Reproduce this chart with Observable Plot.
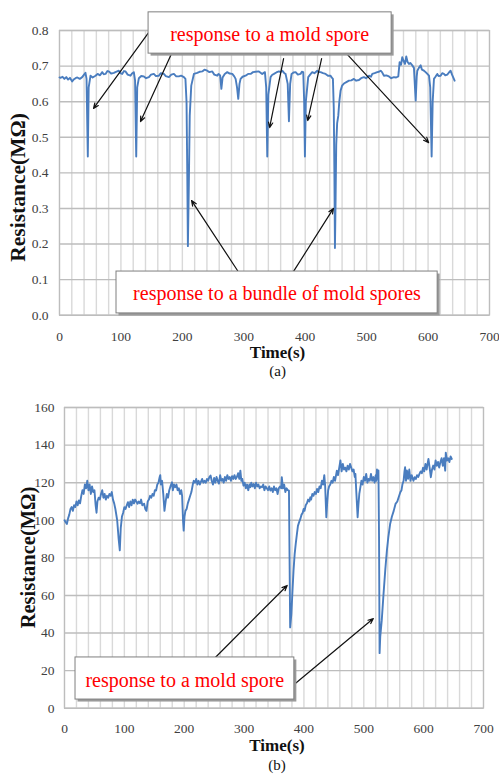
<!DOCTYPE html>
<html><head><meta charset="utf-8">
<script src="https://cdn.jsdelivr.net/npm/d3@7"></script>
<script src="https://cdn.jsdelivr.net/npm/@observablehq/plot@0.6"></script>
<style>body{margin:0;background:#fff;} svg{display:block;}</style>
</head><body><div id="chart"></div>
<script>
// ---------- Panel (a) data ----------
const timeA = [0,1.6,5,8,11,14,17,20.6,23,26.1,29,33,36.9,40,42.3,44,46.1,47.5,50.5,54,58.6,62,66,69.5,72,74.9,78,80.3,84,88.5,92,96.6,99,102,105,107.5,111,115.6,118,121,123,124.9,126.5,129.2,133,137.3,141,145.5,149,153.6,157,161.8,165,169.9,173,178.1,182,186.2,190,194.4,198,202.5,205,206.8,208,209,210.5,212,214.5,218.8,224.2,228,232.4,236,240.5,244,248.7,252,256.8,259,261.5,263.5,265.5,269,273.1,277,281.3,284.5,286.7,289,291,293,294.8,298,302.9,307,311.1,315,319.2,324.6,330,334.4,336.5,338.2,340,343.6,346,349.1,353,357.2,360,362.6,366,368,371.5,373.5,375.5,377.8,381,384.4,388,392.4,394.5,396.8,398.3,399.5,401,404.9,408,411.4,415,419.6,422,425,429,433.2,437,441.3,443,445.1,446.5,447.5,448.4,449.5,450.5,452,453.8,455.5,457.6,460,463,467,471.2,475,479.3,483,487.5,491,495.6,499,503.8,507,509.2,513,517.3,520,522.8,525,528.2,532,536.3,540,544.5,548,551.5,553.7,556,558,560,562.4,564.5,566.5,568.9,571,574.3,577,579.8,581.5,582.5,585,587.9,590,593.3,596,598.8,601.5,603.5,605.8,607.5,609.6,612,615,617,620.4,623,625.8,628,631.3,634,636.7,639,643.2];
const resA = [0.668,0.667,0.670,0.664,0.669,0.662,0.667,0.657,0.662,0.666,0.668,0.664,0.669,0.676,0.681,0.664,0.446,0.640,0.673,0.668,0.673,0.678,0.674,0.683,0.677,0.678,0.686,0.685,0.679,0.681,0.684,0.687,0.680,0.678,0.686,0.685,0.676,0.673,0.679,0.683,0.660,0.446,0.640,0.666,0.672,0.671,0.666,0.669,0.676,0.678,0.672,0.673,0.680,0.678,0.672,0.669,0.676,0.678,0.671,0.671,0.673,0.669,0.664,0.600,0.400,0.194,0.360,0.560,0.645,0.678,0.681,0.684,0.685,0.690,0.687,0.683,0.685,0.676,0.673,0.678,0.674,0.636,0.668,0.678,0.683,0.679,0.678,0.671,0.664,0.640,0.608,0.650,0.664,0.670,0.673,0.678,0.678,0.683,0.684,0.685,0.678,0.683,0.640,0.446,0.620,0.669,0.675,0.678,0.682,0.685,0.683,0.687,0.680,0.678,0.650,0.545,0.650,0.678,0.682,0.683,0.676,0.678,0.684,0.683,0.600,0.446,0.600,0.669,0.676,0.683,0.680,0.687,0.683,0.683,0.680,0.678,0.673,0.673,0.668,0.664,0.580,0.400,0.189,0.330,0.480,0.540,0.560,0.600,0.631,0.645,0.651,0.655,0.659,0.660,0.664,0.659,0.661,0.666,0.669,0.666,0.673,0.670,0.678,0.680,0.683,0.684,0.687,0.683,0.673,0.674,0.671,0.666,0.669,0.668,0.671,0.711,0.704,0.725,0.715,0.706,0.727,0.712,0.706,0.709,0.702,0.695,0.603,0.670,0.687,0.695,0.702,0.690,0.687,0.683,0.678,0.673,0.640,0.446,0.600,0.664,0.670,0.678,0.672,0.673,0.680,0.678,0.674,0.676,0.682,0.687,0.676,0.659];

// ---------- Panel (b) data ----------
const timeB = [0,2,4,6,8,10,12,14,16,18,20,22,24,26,28,30,32,34,36,38,40,42,44,46,48,50,52,53.5,55,57,59,61,63,65,67,69,71,73,75,77,79,81,83,85,88,90.5,92.4,94,96,98,100,102,104,106,108,110,112,114,116,118,120,122,124,126,128,130,133,135,137,139,141,143,145,147,149,151,153,155,157,159,160,161,163,165,167,169,171,173,175,177,179.6,181,183,185,187,189,191,193,195,196.5,198,199.1,200.5,202,204,206,208,210,212,214.5,216,218,220,222,224,226,228,230,232,234,236,238,240,242,244,246,248,250,252,254,256,258,260,262,264,266,268,270,272,274,276,278,280,282,284,286,288,290,292,293.8,295.5,297,299,301,303,305,307,309,310.5,312,314,316,318,320,322,324,326,328,330,332,334,336,338,340,342,343.9,346,348,350,352,354,356,358,360,362,363,365,367,369,371,373,375,376,377,379,380.5,382.6,384.5,386.3,388,390,392,394,396,398,399.5,401,403,405,407,409,410.7,412,414,416,418,420,421.9,424,426,428,430,432,434,435.5,437.4,439,440.5,442,444,446,448,450,452,455,457,459,461,463,465,467,469,471,473,475,477,479,481,483,485,486,487.5,489.7,491,492.5,494,496,498,500,502,504,506,508,510,512,514,516,518,520,521,522,523.5,524.5,525.5,526.4,527.5,530,533,536,538.6,541,544,547,550,553,556,558,561,563,564.5,566.5,568,569,570.5,572,574,576,578,580,583,585,587,589,591,593,595,597,599,601,603,605,606,608,610,612,614,616,618,620,622,624,626,628,630,632,634,636,637,639,641,643,645,647];
const resB = [100,99,98,101,103,106,107,105,108,107,110,108,110.5,109,113,116,114,119,117,121,116,119,114,118,115,116,108,104,110,112,111,114,116,112,114,111,113,112,114,113,115,111,109,106,100,90,84,96,102,104,107,106,108,109.6,107,110,108,111,109,111,110,108.8,110,109,111,108,108.8,106,105,110,111,113,112,114,113,116,115.8,119,120,123,124,119,121,114,105,110,114,112,116,118,120.2,116,119,117.6,119,116,117,114,116,113,100,94.5,102,105,106,109,111,113,115,119.3,121,120,122,119,121,119,120.5,122,120,121,120,122,121,123,123.8,121,119,122.5,120,123,121,119.5,124,121,122,120,123,121,124,122,123,121,123.5,122,124,122,123,125,122,126.4,121,122,118.4,120,117,119,116,119,117.6,120,118,119.3,117,120,118,119,117,118,117.6,119,116,118,117,116,118,115.8,117,115,118,116,117,114,117,118,117,122.9,117,119,115,117,116,115.8,80,43,50,60,73.2,82,87.4,92,97,99,100.7,103,104,106,105,108,109,111,110,112.2,111,114,113,115,114,116.7,115,118,117,121,119,124,118,101.6,110,116,118,119,121,120,123,121,126.4,124,128,131.8,126,130,127,128,126,129,127,130,128,126,127,123,124.7,115,101.6,108,114,117,121,119,123,121,124.7,120,122,121,124.7,121,123,120,124,121,127,122,126.5,90,29.3,38,46.7,60.9,74,83.9,91,98,102,105,108.7,110,112,114.9,116,119,121,126,128.2,121,126.5,122,127,121,124,121,122.9,122,124,123,124.7,126,125,128,126,130,127,129,132.6,128,122.9,127,129.1,127,131.8,129,131,128,131,133,129,133,126.4,136,131.8,133,131,134,132.6];

// ---------- ticks ----------
const xTicks = [0,100,200,300,400,500,600,700];
const xGrid = d3.range(0, 701, 20);
const yTicksA = [0,0.1,0.2,0.3,0.4,0.5,0.6,0.7,0.8];
const yTicksB = [0,20,40,60,80,100,120,140,160];

// ---------- annotations (data units) ----------
const noteA1 = {text:"response to a mold spore", x:342, y:0.789, x1:145, x2:540.7, y1:0.735, y2:0.851};
const arrowsA1 = [
  {x1:145,y1:0.794,x2:55.4,y2:0.581},
  {x1:184,y1:0.741,x2:131.9,y2:0.544},
  {x1:364.8,y1:0.721,x2:342,y2:0.527},
  {x1:426.7,y1:0.721,x2:403.9,y2:0.547},
  {x1:465.8,y1:0.738,x2:601,y2:0.485}
];
const noteA2 = {text:"response to a bundle of mold spores", x:354, y:0.061, x1:92.8, x2:615.6, y1:0.005, y2:0.1227};
const arrowsA2 = [
  {x1:290,y1:0.125,x2:215,y2:0.322},
  {x1:381,y1:0.123,x2:446,y2:0.30}
];
const noteB = {text:"response to a mold spore", x:201, y:14.7, x1:18.4, x2:384, y1:4.6, y2:27};
const arrowsB = [
  {x1:252,y1:27,x2:372,y2:65.3},
  {x1:385.6,y1:13.1,x2:516,y2:47.7}
];

const serif = "'Liberation Serif','Times New Roman',serif";
const tickColor = "#404040";

function panel({times, values, yDomain, yTicks, width, height, ml, mr, mt, mb, note, tickPadX, tickPadY, yTitleSize, yTitleY, yTitleDx, timeDy, capDy, caption}) {
  const data = times.map((t, i) => ({t, v: values[i]}));
  return Plot.plot({
    width, height,
    marginLeft: ml, marginRight: mr, marginTop: mt, marginBottom: mb,
    style: {fontFamily: serif, background: "white", overflow: "visible"},
    x: {domain: [0, 700]},
    y: {domain: yDomain},
    marks: [
      Plot.ruleX(xGrid, {stroke: "#d9d9d9", strokeWidth: 1.4}),
      Plot.ruleY(yTicks, {stroke: "#bdbdbd", strokeWidth: 1.4}),
      Plot.frame({stroke: "#bdbdbd", strokeWidth: 1.2}),
      Plot.axisX(xTicks, {tickSize: 0, tickPadding: tickPadX, fontSize: 13.5, color: tickColor, label: null}),
      Plot.axisY(yTicks, {tickSize: 0, tickPadding: tickPadY, fontSize: 13.5, color: tickColor, label: null}),
      Plot.line(data, {x: "t", y: "v", stroke: "#4a7dbf", strokeWidth: 1.9, strokeLinejoin: "round"}),
      Plot.text(["Time(s)"], {x: 355, frameAnchor: "bottom", dy: timeDy, fontSize: 17, fontWeight: "bold", fill: "#111"}),
      Plot.text([caption], {x: 355, frameAnchor: "bottom", dy: capDy, fontSize: 15, fill: "#111"}),
      Plot.text(["Resistance(MΩ)"], {y: yTitleY, frameAnchor: "left", textAnchor: "middle", dx: yTitleDx, rotate: -90, fontSize: yTitleSize, fontWeight: "bold", fill: "#111"}),
      ...note.map(n => [
        Plot.arrow(n.arrows, {x1: "x1", y1: "y1", x2: "x2", y2: "y2", stroke: "#111", strokeWidth: 1.2, headLength: 7, headAngle: 45}),
        Plot.rect([n.box], {x1: "x1", x2: "x2", y1: "y1", y2: "y2", fill: "#9a9a9a", dx: 2.5, dy: 2.5}),
        Plot.rect([n.box], {x1: "x1", x2: "x2", y1: "y1", y2: "y2", fill: "white", stroke: "#7f7f7f", strokeWidth: 1}),
        Plot.text([n.box], {x: "x", y: "y", text: "text", fill: "#ff0000", fontSize: 20})
      ]).flat()
    ]
  });
}

const root = document.getElementById("chart");
root.appendChild(panel({
  times: timeA, values: resA, yDomain: [0, 0.8], yTicks: yTicksA,
  width: 499, height: 390, ml: 59, mr: 10, mt: 30, mb: 75.3,
  note: [{box: noteA1, arrows: arrowsA1}, {box: noteA2, arrows: arrowsA2}],
  tickPadX: 16, tickPadY: 11, yTitleSize: 21.5, yTitleY: 0.359, yTitleDx: -41,
  timeDy: 43, capDy: 61, caption: "(a)"
}));
root.appendChild(panel({
  times: timeB, values: resB, yDomain: [0, 160], yTicks: yTicksB,
  width: 499, height: 386, ml: 64, mr: 16, mt: 17, mb: 68.3,
  note: [{box: noteB, arrows: arrowsB}],
  tickPadX: 15, tickPadY: 10, yTitleSize: 20.5, yTitleY: 80.2, yTitleDx: -36,
  timeDy: 43, capDy: 62, caption: "(b)"
}));
</script></body></html>
